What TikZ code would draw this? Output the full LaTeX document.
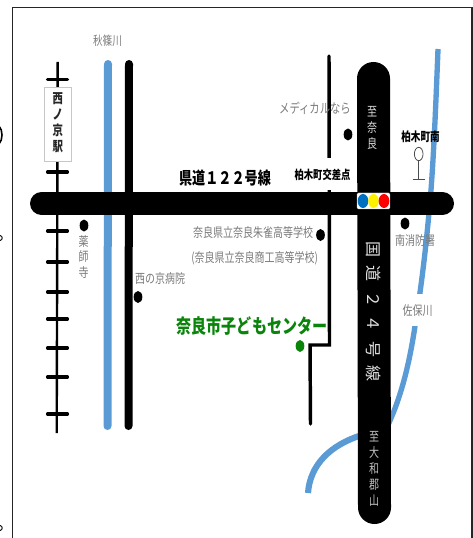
\documentclass[tikz,border=0pt]{standalone}
\usepackage{graphicx}
\usepackage{fontspec}
\usetikzlibrary{shapes.geometric}
\setmainfont{Noto Sans CJK JP}
\definecolor{riverblue}{HTML}{5B9BD5}
\definecolor{labgray}{HTML}{7A7A7A}
\definecolor{centergreen}{HTML}{0B840B}
\definecolor{sigblue}{HTML}{0070C0}
\newcommand{\tallbox}[1]{\scalebox{1}[1.3]{#1}}
\newcommand{\tallstack}[1]{\scalebox{1}[1.3]{\begin{tabular}{@{}c@{}}#1\end{tabular}}}
\begin{document}
\begin{tikzpicture}[x=0.75pt,y=-0.75pt,
  road/.style={line width=#1,line cap=round,draw=black},
  river/.style={line width=#1,draw=riverblue},
  tie/.style={line width=2.3pt,line cap=round,draw=black},
  dot/.style={fill=black,draw=none,ellipse,minimum width=6.5pt,minimum height=9pt,inner sep=0pt},
  lamp/.style={ellipse,minimum width=8pt,minimum height=10.5pt,inner sep=0pt},
  patch/.style={fill=white,inner sep=0pt},
  lab/.style={text=labgray,font=\fontsize{7.5pt}{10pt}\selectfont,inner sep=0.5pt},
  vlab/.style={text=labgray,font=\fontsize{7.5pt}{8.5pt}\selectfont,align=center,inner sep=0pt},
  blab/.style={text=black,font=\bfseries\fontsize{7pt}{10pt}\selectfont,inner sep=0.5pt},
  roadlab/.style={text=black!15,font=\fontsize{7.5pt}{9.25pt}\selectfont,align=center,inner sep=0pt}]
\useasboundingbox (0,0) rectangle (473,538);
% frame
\draw[line width=1.2pt,draw=black!85] (12.5,538) -- (12.5,7.5) -- (472,7.5) -- (472,538);
% scraps of the page at the left edge
\draw[line width=1.2pt] (-1,126) .. controls (3,130) and (3,140) .. (-1,144);
\draw[line width=0.7pt] (0,235.5) .. controls (3,236) and (3,240) .. (0,240.5);
\draw[line width=0.7pt] (0,525.5) .. controls (3,526) and (3,530) .. (0,530.5);
% rivers below roads
\draw[river=4pt] (438,49) .. controls (436,100) and (434,150) .. (431,190) .. controls (428,225) and (424,270) .. (415,326) .. controls (410,360) and (402,395) .. (388,425);
\draw[river=4.6pt] (308,493) .. controls (310,465) and (330,445) .. (362,435);
\draw[river=6pt,line cap=round] (108,64) -- (107.5,426);
% railway
\draw[line width=1.8pt,draw=black] (57.7,62) -- (56.7,433);
\foreach \n/\y in {a/79.5,b/172,c/231,d/262,e/292,f/319,g/348,h/377,i/414}{
  \coordinate (tl\n) at (47.5,\y);\coordinate (tr\n) at (67.5,\y);
  \draw[tie] (tl\n) -- (tr\n);}
% station
\node[draw=black!22,fill=white,line width=0.6pt,minimum width=20pt,minimum height=56pt,inner sep=0pt,
  font=\bfseries\fontsize{7.8pt}{8.9pt}\selectfont,text=black!85] (station) at (57.8,124.5) {\tallstack{西\\ノ\\京\\駅}};
% minor roads
\draw[road=6pt] (129,64) -- (128.5,426);
\coordinate (medn) at (329,56);\coordinate (meds) at (329.5,345);
\coordinate (tc) at (310,345);\coordinate (td) at (310.5,424);
\draw[line width=2.6pt,line cap=round,line join=miter] (medn) -- (meds) -- (tc) -- (td);
% label patches
\node[patch,minimum width=52pt,minimum height=24pt] (patchcross) at (322.5,174) {};
\node[patch,minimum width=40pt,minimum height=24pt] (patchriver) at (421.5,310) {};
% main roads
\draw[road=17.25pt] (41.5,203.5) -- (442.5,203.5);
\draw[road=24.75pt] (373.5,78.5) -- (374.5,507.5);
% signal
\node[draw=black!25,fill=white,line width=0.3pt,rounded corners=1pt,minimum width=24.7pt,minimum height=12pt,inner sep=0pt] (signal) at (373.5,201) {};
\node[lamp,fill=sigblue] (sigb) at (363,201) {};
\node[lamp,fill=yellow] (sigy) at (373.5,201) {};
\node[lamp,fill=red] (sigr) at (384,201) {};
% dots
\node[dot] (d1) at (84,225.5) {};
\node[dot] (d2) at (138,297) {};
\node[dot] (d3) at (348,134.5) {};
\node[dot] (d4) at (320.5,235) {};
\node[dot] (d5) at (405,223.5) {};
\node[dot,fill=centergreen] (d6) at (300,346) {};
% bus stop
\node[ellipse,draw=black!70,fill=white,line width=0.6pt,minimum width=6.5pt,minimum height=10pt,inner sep=0pt] (stop) at (418.7,154) {};
\coordinate (stopb) at (418.7,179.5);
\coordinate (stopl) at (412.5,179.5);\coordinate (stopr) at (425,179.5);
\draw[line width=0.5pt,draw=black!70] (stop) -- (stopb);
\draw[line width=0.5pt,draw=black!70] (stopl) -- (stopr);
% labels
\node[lab,font=\fontsize{7.2pt}{10pt}\selectfont] (akishino) at (107.5,40.5) {\tallbox{秋篠川}};
\node[font=\bfseries\fontsize{9.85pt}{12pt}\selectfont,inner sep=0pt] (kendo) at (225,178) {\tallbox{県道１２２号線}};
\node[blab] (cross) at (322.5,174.5) {\tallbox{柏木町交差点}};
\node[lab,font=\fontsize{7.75pt}{10pt}\selectfont] (medical) at (315,108.5) {\tallbox{メディカルなら}};
\node[blab,font=\bfseries\fontsize{7.2pt}{10pt}\selectfont] (kashiwagi) at (420.5,137) {\tallbox{柏木町南}};
\node[lab] (fire) at (415,241) {\tallbox{南消防署}};
\node[lab] (saho) at (417.5,311) {\tallbox{佐保川}};
\node[lab,anchor=east] (suzaku) at (314,233) {\tallbox{奈良県立奈良朱雀高等学校}};
\node[lab,anchor=east] (shoko) at (319,258.5) {\tallbox{(奈良県立奈良商工高等学校)}};
\node[lab] (hosp) at (160,279) {\tallbox{西の京病院}};
\node[vlab] (yakushi) at (83.5,258.5) {\tallstack{薬\\師\\寺}};
\node[text=centergreen,font=\bfseries\fontsize{11.3pt}{14pt}\selectfont,inner sep=0pt] (center) at (252,326) {\tallbox{奈良市子どもセンター}};
\node[roadlab] (tonara) at (372,129) {\tallstack{至\\奈\\良}};
\node[text=black!12,inner sep=0pt,font=\fontsize{12pt}{14pt}\selectfont,rotate=-90] (kokudo) at (373.5,311.5) {国\kern6.75pt 道\kern6.75pt ２\kern6.75pt ４\kern6.75pt 号\kern6.75pt 線};
\node[roadlab,text=black!25] (toyamato) at (374,470) {\tallstack{至\\大\\和\\郡\\山}};
\end{tikzpicture}
\end{document}
